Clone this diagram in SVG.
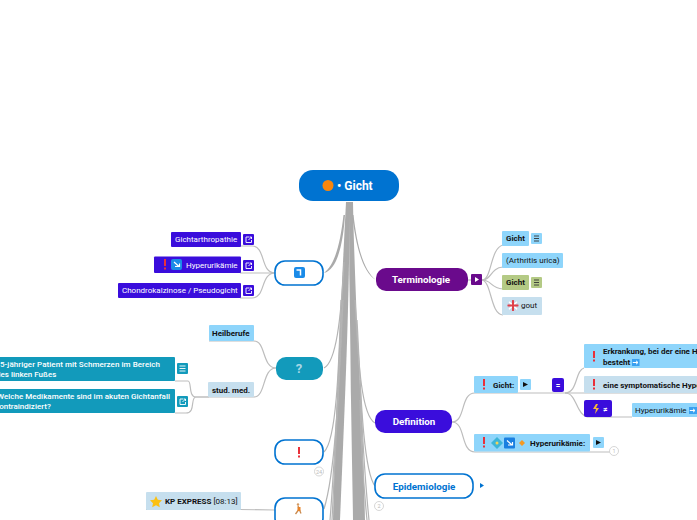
<svg xmlns="http://www.w3.org/2000/svg" width="697" height="520" viewBox="0 0 697 520">
<style>
text{font-family:Roboto,"Liberation Sans",sans-serif;font-size:8px;fill:#111}
.b{font-weight:700}
.m{font-weight:500}
.w{fill:#fff}
.c{text-anchor:middle}
.l{fill:none;stroke:#bdbdbd;stroke-width:1.2}
.t{fill:#aaa}
.s{fill:none;stroke:#b4b4b4;stroke-width:1.2}
.n{fill:#fff;stroke:#0073d1;stroke-width:1.6}
.ind{fill:#3a0ddc}
.teal{fill:#129abb}
.lb{fill:#8ed5fb}
.pb{fill:#c6dfee}
.gr{fill:#b4ca85}
.count{fill:#fff;stroke:#ccc;stroke-width:.8}
.ct{font-size:5.500px;fill:#bbb;text-anchor:middle}
.ic{fill:none;stroke:#fff;stroke-width:.9}
.blue{fill:#1a8be8}
.red{fill:#e9303a}
</style>
<defs>
<clipPath id="flag"><circle cx="513" cy="305.500" r="5.500"/></clipPath>
<path id="ext" class="ic" d="M0 0h3M0 0v5.500h5.500v-2.500M2.500 3l3-3M3.500 0h2v2"/>
<path id="arrow" d="M.8 3.500h5M4 1.800l2 1.700-2 1.700" fill="none" stroke="#fff" stroke-width="1"/>
<g id="bang"><rect width="2" height="7" class="red"/><rect y="8.500" width="2" height="2" class="red"/></g>
</defs>
<rect width="697" height="520" fill="#fff"/>
<g id="connectors">
<path class="t" d="M346 202H350L348.800 275C347.500 340 345 400 340 520H333C335 430 339 340 346 202Z"/>
<path class="t" d="M349 202H353C354 260 358 350 361 400C363 440 364 480 365 520H353C352.500 480 351.500 440 351 400C350.500 350 349.800 300 349.300 275Z"/>
<path class="t" d="M345 215C343 245 337 270 324 273C335 264 340 245 343.500 215Z"/>
<path class="t" d="M352 215C356 245 362 272 376 280C363 270 357 245 353.500 215Z"/>
<path class="s" d="M344 262C341 320 336 362 324 368"/>
<path class="s" d="M341 300C339 360 337 440 324 452"/>
<path class="s" d="M342 310C339 380 336 470 324 509"/>
<path class="s" d="M343 300C339 380 336 450 332 520"/>
<path class="s" d="M341 340C337 410 334 470 330 520"/>
<path class="s" d="M355 300C358 350 360 415 375 423"/>
<path class="s" d="M357 320C360 370 362 470 375 486"/>
<path class="s" d="M360 380C362 430 365 480 369 520"/>
<path class="s" d="M360 400C361 440 364 490 367 520"/>
<path class="l" d="M467 280H474"/>
<path class="l" d="M482 280C492 280 490 248 503 245"/>
<path class="l" d="M482 280C492 280 490 268 503 267"/>
<path class="l" d="M482 280C492 280 490 288 503 289"/>
<path class="l" d="M482 280C492 282 490 314 503 315"/>
<path class="l" d="M275 273C260 273 266 246 252 246H240"/>
<path class="l" d="M275 273C265 273 260 273 240 273"/>
<path class="l" d="M275 273C260 273 266 298 252 298H240"/>
<path class="l" d="M276 368C262 368 266 341 254 341H209"/>
<path class="l" d="M276 368C262 368 266 397 254 397H209"/>
<path class="l" d="M209 397H196C188 397 192 381 188 381H175"/>
<path class="l" d="M209 397H196C190 397 196 413 186 413H175"/>
<path class="l" d="M275 510L240 509.500H146" stroke-width="1.500"/>
<path class="l" d="M452 422C466 422 460 393 475 393H584"/>
<path class="l" d="M452 422C466 422 460 452 475 452H610"/>
<path class="l" d="M565 393C578 393 575 370 584 368"/>
<path class="l" d="M565 393C578 393 575 417 590 417H632"/>
<path class="l" d="M584 393H697"/>
</g>
<g id="root"><rect x="299" y="170" width="100" height="31" rx="14" fill="#0073d1"/><circle cx="328" cy="185.500" r="5.500" fill="#f7860d"/><text class="b w" x="337" y="190" style="font-size:12px">• Gicht</text></g>
<g id="terminologie"><rect x="376" y="268" width="92" height="23" rx="10" fill="#6a0a8c"/><text class="b w c" x="421" y="283" style="font-size:9.800px">Terminologie</text><rect x="471" y="274" width="11" height="11" rx="1" fill="#6a0a8c"/><path d="M475 277l4 2.500-4 2.500z" fill="#fff"/></g>
<g id="t1"><rect x="502" y="231" width="27" height="15" rx="1" class="lb"/><text class="b" x="506" y="241">Gicht</text><rect x="531" y="233" width="11" height="11" rx="1" class="lb"/><path d="M534 236h5M534 238.500h5M534 241h5" class="ic" style="stroke:#333"/></g>
<g id="t2"><rect x="502" y="253" width="61" height="15" rx="1" class="lb"/><text x="506" y="263">(Arthritis urica)</text></g>
<g id="t3"><rect x="502" y="275" width="27" height="15" rx="1" class="gr"/><text class="b" x="506" y="285">Gicht</text><rect x="531" y="277" width="11" height="11" rx="1" class="gr"/><path d="M534 280h5M534 282.500h5M534 285h5" class="ic" style="stroke:#333"/></g>
<g id="t4"><rect x="502" y="297" width="40" height="18" rx="1" class="pb"/><g clip-path="url(#flag)"><rect x="507" y="300" width="12" height="11" fill="#c9d2e6"/><path d="M507 300l12 11M519 300l-12 11" stroke="#fff" stroke-width="1.500"/><path d="M507 305.500h12M513 300v11" stroke="#e0404a" stroke-width="2"/></g><text x="521" y="308">gout</text></g>
<g id="verw"><rect x="275" y="261" width="48" height="24" rx="10" class="n"/><rect x="294" y="267" width="11" height="11" rx="2" class="blue"/><path d="M296.500 270h4v5.500" fill="none" stroke="#fff" stroke-width="1.500"/></g>
<g id="v1"><rect x="171" y="232" width="70" height="15" rx="1" class="ind"/><text class="w" x="175" y="242">Gichtarthropathie</text><rect x="243" y="234" width="11" height="11" rx="1" class="ind"/><use href="#ext" x="246" y="237"/></g>
<g id="v2"><rect x="154" y="256.500" width="87" height="16.500" rx="1" class="ind"/><use href="#bang" x="164" y="259"/><rect x="171" y="259" width="11" height="11" rx="2" class="blue"/><path d="M174 262l5 4.500M175 266.500h4.500v-3" fill="none" stroke="#fff" stroke-width="1.200"/><text class="w" x="186" y="268">Hyperurikämie</text><rect x="243" y="260" width="11" height="11" rx="1" class="ind"/><use href="#ext" x="246" y="263"/></g>
<g id="v3"><rect x="118" y="283" width="123" height="15" rx="1" class="ind"/><text class="w" x="122" y="293">Chondrokalzinose / Pseudogicht</text><rect x="243" y="285" width="11" height="11" rx="1" class="ind"/><use href="#ext" x="246" y="288"/></g>
<g id="frage"><rect x="276" y="357" width="47" height="23" rx="10" class="teal"/><text class="b c" x="299" y="373" style="font-size:13px;fill:#a9d8e6">?</text></g>
<g id="heil"><rect x="209" y="325" width="45" height="16" rx="1" class="lb"/><text class="b" x="212" y="336">Heilberufe</text></g>
<g id="stud"><rect x="208" y="382" width="46" height="15" rx="1" class="pb"/><text class="b" x="212" y="393">stud. med.</text></g>
<g id="f1"><rect x="-10" y="357" width="185" height="24" rx="1" class="teal"/><text class="w m" x="0" y="367" textLength="160">5-jähriger Patient mit Schmerzen im Bereich</text><text class="w m" x="-4" y="377">des linken Fußes</text><rect x="177" y="363" width="11" height="11" rx="1" class="teal"/><path d="M179.500 366h6M179.500 368.500h6M179.500 371h6" class="ic"/></g>
<g id="f2"><rect x="-10" y="389" width="185" height="24" rx="1" class="teal"/><text class="w m" x="-3" y="399" textLength="173">Welche Medikamente sind im akuten Gichtanfall</text><text class="w m" x="-5" y="409">kontraindiziert?</text><rect x="177" y="396" width="11" height="11" rx="1" class="teal"/><use href="#ext" x="180" y="399"/></g>
<g id="warn"><rect x="275" y="440" width="48" height="24" rx="10" class="n"/><use href="#bang" x="298" y="447"/><circle cx="319" cy="471.500" r="4.500" class="count"/><text class="ct" x="319" y="473.500">24</text></g>
<g id="run"><rect x="275" y="498" width="48" height="30" rx="10" class="n"/><circle cx="298" cy="504.500" r="1.200" fill="#d59a62"/><path d="M298 506l1.500 4 1.500 3.500M298.500 510l-3 4" stroke="#c98a4e" stroke-width="1.300" fill="none"/><rect x="297.500" y="507" width="3" height="4" fill="#e8832a"/></g>
<g id="kp"><rect x="146" y="492" width="95" height="18" rx="1" class="pb"/><path d="M156 496l1.800 3.800 4.200.5-3 2.900.8 4.100-3.800-2-3.800 2 .8-4.100-3-2.900 4.200-.5z" fill="#fbc012"/><text class="b" x="165" y="504">KP EXPRESS <tspan style="font-weight:400">[08:13]</tspan></text><use href="#ext" x="245" y="498" style="stroke:#0073d1"/></g>
<g id="definition"><rect x="375" y="410" width="77" height="23" rx="10" class="ind"/><text class="b w c" x="414" y="425" style="font-size:9.800px">Definition</text></g>
<g id="d1"><rect x="474" y="376" width="44" height="17" rx="1" class="lb"/><use href="#bang" x="483" y="379"/><text class="b" x="493" y="388">Gicht:</text><rect x="520" y="379" width="11" height="11" rx="1" class="lb"/><path d="M523 382l5 2.500-5 2.500z" fill="#111"/></g>
<g id="eq"><rect x="552" y="378" width="12" height="14" rx="2" class="ind"/><text class="b w c" x="558" y="388">=</text></g>
<g id="d2"><rect x="584" y="344" width="125" height="24" rx="1" class="lb"/><use href="#bang" x="593" y="351"/><text class="b" x="603" y="354">Erkrankung, bei der eine H</text><text class="b" x="603" y="365">besteht</text><rect x="632" y="359" width="7.500" height="7" fill="#3aa0f0"/><use href="#arrow" x="632" y="359"/></g>
<g id="d3"><rect x="584" y="376" width="125" height="17" rx="1" class="pb"/><use href="#bang" x="593" y="379"/><text class="b" x="603" y="388">eine symptomatische Hype</text></g>
<g id="d4"><rect x="584" y="400" width="28" height="17" rx="2" class="ind"/><path d="M596 404l-3 5h3l-1 5 4-6h-3l2-4z" fill="#f4b73a"/><text class="w b" x="603" y="412">≠</text></g>
<g id="d5"><rect x="632" y="403" width="70" height="14" rx="1" class="lb"/><text x="635" y="413">Hyperurikämie</text><rect x="689" y="407" width="8" height="7" fill="#3aa0f0"/><use href="#arrow" x="689" y="407"/></g>
<g id="d6"><rect x="474" y="434" width="116" height="17.500" rx="1" class="lb"/><use href="#bang" x="483" y="437"/><path d="M497 437l6 6-6 6-6-6z" fill="#3db5d8"/><circle cx="497" cy="443" r="1.500" fill="#f3d35a"/><rect x="504" y="437.500" width="11" height="11" rx="1" fill="#1a7fe0"/><path d="M507 440.500l5 4.500M508 445h4.500v-3" fill="none" stroke="#fff" stroke-width="1.200"/><path d="M522 440l3 3-3 3-3-3z" fill="#f59a23"/><text class="b" x="530" y="446">Hyperurikämie:</text><rect x="593" y="437" width="11" height="11" rx="1" class="lb"/><path d="M596 440l5 2.500-5 2.500z" fill="#111"/><circle cx="614" cy="451" r="4.500" class="count"/><text class="ct" x="614" y="453">1</text></g>
<g id="epi"><rect x="375" y="474" width="98" height="24" rx="10" class="n"/><text class="b c" x="424" y="490" style="font-size:9.800px;fill:#0073d1">Epidemiologie</text><path d="M480 483l4 2.500-4 2.500z" fill="#0073d1"/><circle cx="379" cy="506" r="4.500" class="count"/><text class="ct" x="379" y="508">2</text></g>
</svg>
